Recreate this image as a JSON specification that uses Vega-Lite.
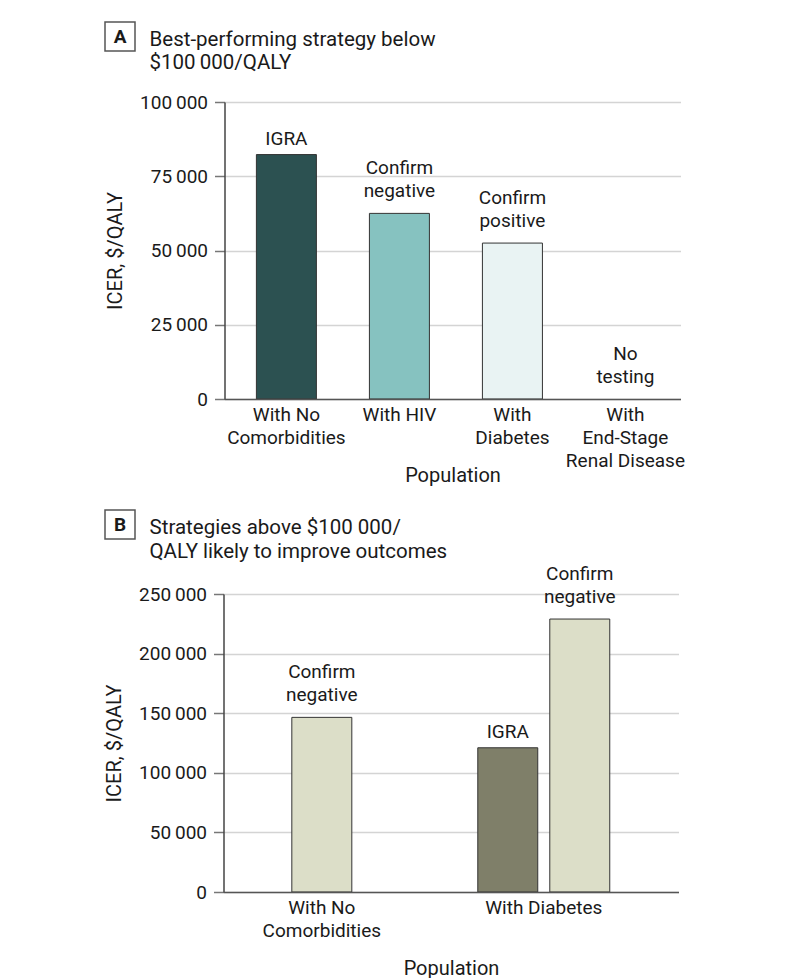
{
  "$schema": "https://vega.github.io/schema/vega-lite/v6.json",
  "padding": {"left": 104, "top": 21, "right": 5, "bottom": 0},
  "background": "white",
  "config": {
    "font": "Roboto",
    "view": {"stroke": null},
    "axis": {"labelFont": "Roboto", "titleFont": "Roboto", "labelFontSize": 19, "titleFontSize": 20, "titleFontWeight": "normal", "labelColor": "#1a1a1a", "titleColor": "#1a1a1a"},
    "text": {"font": "Roboto", "fontSize": 19, "color": "#1a1a1a"}
  },
  "resolve": {"scale": {"color": "independent"}},
  "spacing": 24,
  "vconcat": [
    {
      "center": true,
      "spacing": 20,
      "vconcat": [
        {
          "spacing": 13,
          "hconcat": [
            {"width": 30, "height": 29, "view": {"stroke": "#555", "strokeWidth": 1.5},
             "data": {"values": [{"t": "A"}]},
             "mark": {"type": "text", "fontWeight": "bold", "fontSize": 19, "baseline": "middle"},
             "encoding": {"text": {"field": "t"}}},
            {"width": 1, "height": 1,
             "data": {"values": [{"t": "Best-performing strategy below|$100\u2009000/QALY"}]},
             "mark": {"type": "text", "align": "left", "baseline": "top", "lineBreak": "|", "fontSize": 20.5, "lineHeight": 23, "dy": 7},
             "encoding": {"text": {"field": "t"}}},
            {"width": 355, "height": 1, "data": {"values": []}, "mark": "point"}
          ]
        },
        {
          "width": 456,
          "height": 297,
          "data": {"values": [
            {"population": "With No|Comorbidities", "strategy": "IGRA", "label": "IGRA", "icer": 82300},
            {"population": "With HIV", "strategy": "Confirm negative", "label": "Confirm|negative", "icer": 62500},
            {"population": "With|Diabetes", "strategy": "Confirm positive", "label": "Confirm|positive", "icer": 52500},
            {"population": "With|End-Stage|Renal Disease", "strategy": "No testing", "label": "No|testing", "icer": 0}
          ]},
          "encoding": {
            "x": {"field": "population", "type": "nominal", "sort": null,
                  "scale": {"paddingInner": 0.469, "paddingOuter": 0.252, "align": 0.56},
                  "axis": {"title": "Population", "labelAngle": 0, "ticks": false, "tickSize": 0, "domainColor": "#555", "domainWidth": 1.5, "labelPadding": 6, "labelBaseline": "top", "labelExpr": "split(datum.label, '|')", "labelLineHeight": 23, "titleY": 66, "zindex": 1}},
            "y": {"field": "icer", "type": "quantitative", "scale": {"domain": [0, 100000]},
                  "axis": {"title": "ICER, $/QALY", "values": [0, 25000, 50000, 75000, 100000], "labelExpr": "replace(format(datum.value, ','), ',', '\u2009')", "grid": true, "gridColor": "#d4d4d4", "gridWidth": 1.5, "tickColor": "#777", "tickSize": 10, "tickWidth": 1.5, "domainColor": "#444", "domainWidth": 1.5, "labelPadding": 7, "titlePadding": 14}}
          },
          "layer": [
            {"transform": [{"filter": "datum.icer > 0"}],
             "mark": {"type": "bar", "stroke": "#333", "strokeWidth": 1},
             "encoding": {"color": {"field": "strategy", "type": "nominal", "legend": null,
                                    "scale": {"domain": ["IGRA", "Confirm negative", "Confirm positive"], "range": ["#2c5151", "#86c2c0", "#e9f3f3"]}}}},
            {"transform": [{"filter": "indexof(datum.label, '|') < 0"}],
             "mark": {"type": "text", "baseline": "bottom", "dy": -6},
             "encoding": {"text": {"field": "label"}}},
            {"transform": [{"filter": "indexof(datum.label, '|') >= 0"}],
             "mark": {"type": "text", "baseline": "bottom", "dy": -35, "lineBreak": "|", "lineHeight": 23},
             "encoding": {"text": {"field": "label"}}}
          ]
        }
      ]
    },
    {
      "center": true,
      "spacing": 3,
      "vconcat": [
        {
          "spacing": 13,
          "hconcat": [
            {"width": 30, "height": 29, "view": {"stroke": "#555", "strokeWidth": 1.5},
             "data": {"values": [{"t": "B"}]},
             "mark": {"type": "text", "fontWeight": "bold", "fontSize": 19, "baseline": "middle"},
             "encoding": {"text": {"field": "t"}}},
            {"width": 1, "height": 1,
             "data": {"values": [{"t": "Strategies above $100 000/|QALY likely to improve outcomes"}]},
             "mark": {"type": "text", "align": "left", "baseline": "top", "lineBreak": "|", "fontSize": 20.5, "lineHeight": 24, "dy": 7},
             "encoding": {"text": {"field": "t"}}},
            {"width": 336, "height": 1, "data": {"values": []}, "mark": "point"}
          ]
        },
        {
          "width": 455,
          "height": 298,
          "data": {"values": [
            {"population": "With No|Comorbidities", "strategy": "Confirm negative", "label": "Confirm|negative", "icer": 146500},
            {"population": "With Diabetes", "strategy": "IGRA", "label": "IGRA", "icer": 121000},
            {"population": "With Diabetes", "strategy": "Confirm negative", "label": "Confirm|negative", "icer": 229000}
          ]},
          "encoding": {
            "x": {"field": "population", "type": "nominal", "sort": null,
                  "scale": {"paddingInner": 0.36, "paddingOuter": 0.205, "align": 0.3},
                  "axis": {"title": "Population", "labelAngle": 0, "ticks": false, "tickSize": 0, "domainColor": "#555", "domainWidth": 1.5, "labelPadding": 6, "labelBaseline": "top", "labelExpr": "split(datum.label, '|')", "labelLineHeight": 23, "titleY": 66, "zindex": 1}},
            "y": {"field": "icer", "type": "quantitative", "scale": {"domain": [0, 250000]},
                  "axis": {"title": "ICER, $/QALY", "values": [0, 50000, 100000, 150000, 200000, 250000], "labelExpr": "replace(format(datum.value, ','), ',', '\u2009')", "grid": true, "gridColor": "#d4d4d4", "gridWidth": 1.5, "tickColor": "#777", "tickSize": 10, "tickWidth": 1.5, "domainColor": "#444", "domainWidth": 1.5, "labelPadding": 7, "titlePadding": 14}},
            "color": {"field": "strategy", "type": "nominal", "legend": null,
                      "scale": {"domain": ["IGRA", "Confirm negative"], "range": ["#7f7f69", "#dcdec8"]}}
          },
          "layer": [
            {"transform": [{"filter": "datum.population == 'With No|Comorbidities'"}],
             "mark": {"type": "bar", "stroke": "#333", "strokeWidth": 1, "width": 60}},
            {"transform": [{"filter": "datum.population == 'With No|Comorbidities'"}],
             "mark": {"type": "text", "baseline": "bottom", "dy": -35, "lineBreak": "|", "lineHeight": 23},
             "encoding": {"text": {"field": "label"}, "color": {"value": "#1a1a1a"}}},
            {"transform": [{"filter": "datum.population == 'With Diabetes'"}],
             "mark": {"type": "bar", "stroke": "#333", "strokeWidth": 1},
             "encoding": {"xOffset": {"field": "strategy", "type": "nominal", "sort": ["IGRA", "Confirm negative"], "scale": {"domain": ["IGRA", "Confirm negative"], "paddingInner": 0.167, "paddingOuter": 0.07}}}},
            {"transform": [{"filter": "datum.population == 'With Diabetes' && indexof(datum.label, '|') < 0"}],
             "mark": {"type": "text", "baseline": "bottom", "dy": -6},
             "encoding": {"text": {"field": "label"}, "color": {"value": "#1a1a1a"},
                          "xOffset": {"field": "strategy", "type": "nominal", "sort": ["IGRA", "Confirm negative"], "scale": {"domain": ["IGRA", "Confirm negative"], "paddingInner": 0.167, "paddingOuter": 0.07}}}},
            {"transform": [{"filter": "datum.population == 'With Diabetes' && indexof(datum.label, '|') >= 0"}],
             "mark": {"type": "text", "baseline": "bottom", "dy": -35, "lineBreak": "|", "lineHeight": 23},
             "encoding": {"text": {"field": "label"}, "color": {"value": "#1a1a1a"},
                          "xOffset": {"field": "strategy", "type": "nominal", "sort": ["IGRA", "Confirm negative"], "scale": {"domain": ["IGRA", "Confirm negative"], "paddingInner": 0.167, "paddingOuter": 0.07}}}}
          ]
        }
      ]
    }
  ]
}
